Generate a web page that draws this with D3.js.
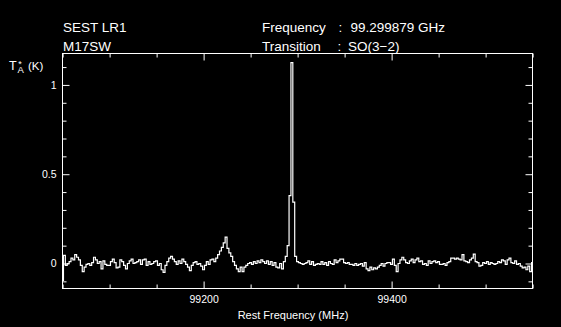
<!DOCTYPE html>
<html>
<head>
<meta charset="utf-8">
<script src="https://cdn.jsdelivr.net/npm/d3@7"></script>
<style>
  html, body { margin: 0; padding: 0; background: #000; }
  svg { display: block; }
  text { font-family: "Liberation Sans", Arial, sans-serif; fill: #fff; }
</style>
</head>
<body>
<svg id="chart" width="561" height="327"></svg>
<script>
// ---- data ----
const headerLeft = ["SEST LR1", "M17SW"];
const headerKeys = ["Frequency", "Transition"];
const headerVals = ["99.299879 GHz", "SO(3\u22122)"];
const xDomain = [99049.879, 99549.879];      // rest frequency (MHz)
const yDomain = [-0.14, 1.176];              // T_A* (K)
const xMajorTicks = [99200, 99400];
const xMinorTicks = [99050, 99100, 99150, 99250, 99300, 99350, 99450, 99500, 99550];
const yMajorTicks = [0, 0.5, 1];
const yMinorTicks = [-0.1, 0.1, 0.2, 0.3, 0.4, 0.6, 0.7, 0.8, 0.9, 1.1];
const chanStart = 99048.9;   // MHz, left edge of first channel
const chanWidth = 2.0;       // MHz
const tA = [
  -0.095, 0.045, -0.01, 0.0, 0.01, 0.03, 0.02, 0.05, 0.035, 0.02,
  -0.01, -0.045, -0.02, -0.005, 0.0, -0.01, 0.005, 0.035, 0.02, 0.0,
  0.01, -0.03, 0.015, -0.005, -0.01, -0.01, 0.01, 0.025, 0.005, -0.025,
  -0.02, 0.02, 0.01, -0.01, -0.03, 0.0, 0.015, 0.025, 0.0, 0.005,
  0.01, 0.02, -0.005, 0.02, 0.025, -0.01, 0.01, -0.005, 0.0, 0.01,
  0.015, -0.01, 0.0, -0.035, -0.05, -0.01, 0.01, 0.03, 0.04, 0.025,
  0.01, -0.005, 0.015, 0.0, 0.025, 0.01, -0.005, -0.02, -0.04, -0.01,
  0.005, 0.01, -0.005, 0.0, -0.015, -0.035, -0.01, 0.01, -0.005, 0.02,
  0.025, 0.01, 0.03, 0.05, 0.07, 0.09, 0.115, 0.148, 0.085, 0.06,
  0.04, 0.01, -0.01, -0.03, -0.045, -0.02, -0.045, -0.02, -0.01, 0.0,
  0.005, -0.005, 0.01, 0.0, 0.015, 0.005, 0.02, 0.01, 0.0, 0.015,
  -0.005, 0.01, -0.01, 0.005, -0.02, -0.025, 0.0, -0.03, 0.01, 0.04,
  0.1, 0.38, 1.125, 0.344, 0.04, 0.01, 0.005, 0.0, -0.005, 0.0,
  0.005, 0.015, -0.005, 0.01, -0.01, -0.005, 0.0, -0.005, 0.01, -0.005,
  0.005, -0.01, 0.01, 0.0, -0.005, 0.02, 0.005, 0.015, 0.025, 0.025,
  0.005, 0.0, 0.005, -0.005, -0.005, -0.01, 0.0, -0.01, -0.005, 0.0,
  -0.015, 0.005, -0.03, -0.04, -0.02, -0.035, -0.025, -0.03, -0.02, -0.01,
  0.0, -0.015, 0.0, 0.005, 0.005, -0.005, 0.025, -0.01, -0.045, 0.0,
  0.02, 0.035, 0.02, 0.005, 0.0, 0.015, 0.025, 0.005, 0.02, 0.03,
  0.01, 0.015, -0.005, 0.0, -0.01, 0.015, 0.0, 0.01, 0.015, 0.005,
  0.01, -0.005, -0.005, 0.0, -0.01, 0.005, 0.01, 0.03, 0.03, 0.025,
  0.03, 0.025, 0.02, 0.05, 0.015, 0.01, 0.005, 0.02, 0.03, 0.052,
  0.01, 0.005, -0.015, -0.01, 0.005, 0.0, 0.01, -0.005, 0.005, 0.0,
  -0.005, 0.0, 0.01, 0.005, 0.02, 0.015, -0.005, 0.02, 0.03, 0.005,
  0.0, 0.015, -0.005, 0.0, -0.015, -0.025, -0.02, -0.035, -0.015, -0.045,
  0.005
];

// ---- layout ----
const svg = d3.select("#chart");
svg.append("rect").attr("width", 561).attr("height", 327).attr("fill", "#000");
const L = 62.5, R = 532.5, T = 53.5, B = 288.5;

const x = d3.scaleLinear().domain(xDomain).range([L, R]);
const y = d3.scaleLinear().domain(yDomain).range([B, T]);

const fs = 10.5;

function styleAxis(g) {
  g.select(".domain").remove();
  g.selectAll("line").attr("stroke", "#fff").attr("stroke-width", 1);
  g.selectAll("text").attr("fill", "#fff").style("font-size", fs + "px")
    .style("font-family", '"Liberation Sans", Arial, sans-serif');
}

// bottom
svg.append("g").attr("transform", `translate(0,${B})`)
  .call(d3.axisBottom(x).tickValues(xMajorTicks).tickSize(-7).tickPadding(7).tickFormat(d3.format("d")))
  .call(styleAxis);
svg.append("g").attr("transform", `translate(0,${B})`)
  .call(d3.axisBottom(x).tickValues(xMinorTicks).tickSize(-4).tickFormat(""))
  .call(styleAxis);
// top
svg.append("g").attr("transform", `translate(0,${T})`)
  .call(d3.axisTop(x).tickValues(xMajorTicks).tickSize(-7).tickFormat(""))
  .call(styleAxis);
svg.append("g").attr("transform", `translate(0,${T})`)
  .call(d3.axisTop(x).tickValues(xMinorTicks).tickSize(-4).tickFormat(""))
  .call(styleAxis);
// left
svg.append("g").attr("transform", `translate(${L},0)`)
  .call(d3.axisLeft(y).tickValues(yMajorTicks).tickSize(-7).tickPadding(6).tickFormat(d => d === 0 ? "0" : (d === 1 ? "1" : "0.5")))
  .call(styleAxis);
svg.append("g").attr("transform", `translate(${L},0)`)
  .call(d3.axisLeft(y).tickValues(yMinorTicks).tickSize(-4).tickFormat(""))
  .call(styleAxis);
// right
svg.append("g").attr("transform", `translate(${R},0)`)
  .call(d3.axisRight(y).tickValues(yMajorTicks).tickSize(-7).tickFormat(""))
  .call(styleAxis);
svg.append("g").attr("transform", `translate(${R},0)`)
  .call(d3.axisRight(y).tickValues(yMinorTicks).tickSize(-4).tickFormat(""))
  .call(styleAxis);

// spectrum
svg.append("clipPath").attr("id", "plotclip")
  .append("rect").attr("x", L).attr("y", T).attr("width", R - L).attr("height", B - T);
const pts = tA.map((v, k) => [chanStart + (k + 0.5) * chanWidth, v]);
const line = d3.line().x(d => x(d[0])).y(d => y(d[1])).curve(d3.curveStep);
svg.append("path").datum(pts)
  .attr("clip-path", "url(#plotclip)")
  .attr("d", line)
  .attr("fill", "none").attr("stroke", "#fff").attr("stroke-width", 1.2);

// frame
svg.append("rect").attr("x", L).attr("y", T).attr("width", R - L).attr("height", B - T)
  .attr("fill", "none").attr("stroke", "#fff").attr("stroke-width", 1);

// header
const hfs = 13.5;
svg.append("text").attr("x", 63).attr("y", 32).style("font-size", hfs + "px").text(headerLeft[0]);
svg.append("text").attr("x", 63).attr("y", 51).style("font-size", hfs + "px").text(headerLeft[1]);
headerKeys.forEach((k, i) => {
  const yy = i === 0 ? 32 : 51;
  svg.append("text").attr("x", 262).attr("y", yy).style("font-size", hfs + "px").text(k);
  svg.append("text").attr("x", i === 0 ? 338.5 : 337.5).attr("y", yy).style("font-size", hfs + "px").text(":");
  svg.append("text").attr("x", i === 0 ? 350.5 : 348).attr("y", yy).style("font-size", hfs + "px").text(headerVals[i]);
});

// y label  T*A (K) as one text element with tspans
const yl = svg.append("text").attr("x", 9).attr("y", 69.5).style("font-size", "12.5px");
yl.append("tspan").attr("x", 9).attr("y", 69.5).text("T");
yl.append("tspan").attr("x", 18.3).attr("y", 66.5).style("font-size", "9px").text("*");
yl.append("tspan").attr("x", 17.5).attr("y", 72.5).style("font-size", "9.5px").text("A");
yl.append("tspan").attr("x", 28).attr("y", 70).style("font-size", "11.5px").text("(K)");

// x label
svg.append("text").attr("x", 293).attr("y", 319).attr("text-anchor", "middle")
  .style("font-size", "11px").text("Rest Frequency (MHz)");
</script>
</body>
</html>
